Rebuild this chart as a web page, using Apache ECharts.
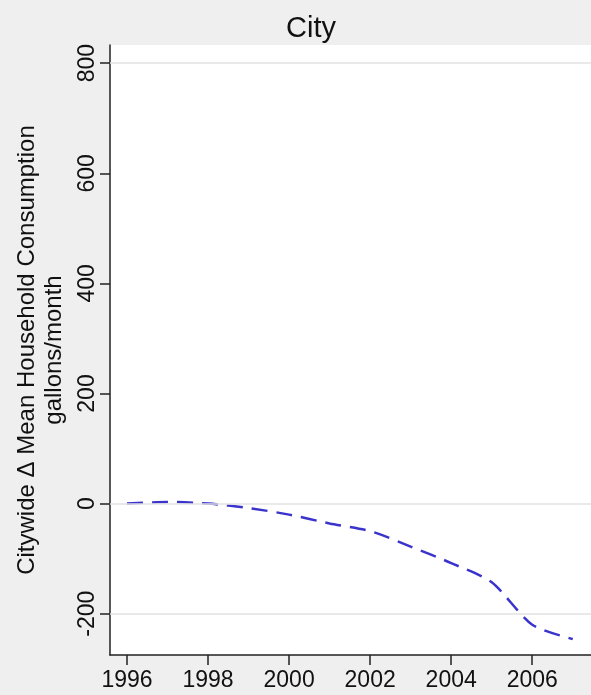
<!DOCTYPE html>
<html>
<head>
<meta charset="utf-8">
<script src="https://cdn.jsdelivr.net/npm/echarts@6/dist/echarts.min.js"></script>
<style>html,body{margin:0;padding:0;background:#efefef}#c{width:591px;height:695px}</style>
</head>
<body>
<div id="c"></div>
<script>
const years = [1996, 1997, 1998, 1999, 2000, 2001, 2002, 2003, 2004, 2005, 2006, 2007];
const cityValues = [0, 3, 0, -8, -20, -36, -50, -78, -108, -143, -220, -246];
const xTicks = [1996, 1998, 2000, 2002, 2004, 2006];
const yTicks = [-200, 0, 200, 400, 600, 800];
const gridValues = [800, 0, -200];

const chart = echarts.init(document.getElementById('c'));
const font = '"Liberation Sans", Arial, Helvetica, sans-serif';
chart.setOption({
  backgroundColor: '#efefef',
  animation: false,
  title: {
    text: 'City', left: 281, top: 9,
    textStyle: {fontFamily: font, fontSize: 29, fontWeight: 'normal', color: '#111'}
  },
  grid: {left: 110, top: 45, right: 0, bottom: 40, show: true, backgroundColor: '#ffffff', borderWidth: 0, containLabel: false, outerBoundsMode: 'none'},
  xAxis: {
    type: 'value', min: 1995.58, max: 2007.45,
    axisLine: {show: true, onZero: false, lineStyle: {color: '#222', width: 1.5}},
    axisTick: {show: true, customValues: xTicks, length: 10, lineStyle: {color: '#222', width: 1.5}},
    axisLabel: {customValues: xTicks, formatter: v => String(v), fontFamily: font, fontSize: 23, color: '#111', margin: 14},
    splitLine: {show: false}
  },
  yAxis: {
    type: 'value', min: -275, max: 833,
    name: 'Citywide \u0394 Mean Household Consumption\ngallons/month',
    nameLocation: 'middle', nameRotate: 90, nameGap: 34,
    nameTextStyle: {fontFamily: font, fontSize: 24, color: '#111', lineHeight: 27},
    axisLine: {show: true, onZero: false, lineStyle: {color: '#222', width: 1.5}},
    axisTick: {show: true, customValues: yTicks, length: 10, lineStyle: {color: '#222', width: 1.5}},
    axisLabel: {customValues: yTicks, formatter: v => String(v), rotate: 90, fontFamily: font, fontSize: 23, color: '#111', margin: 11},
    splitLine: {show: false}
  },
  series: [{
    type: 'line',
    data: years.map((y, i) => [y, cityValues[i]]),
    showSymbol: false,
    smooth: 0.25,
    lineStyle: {color: '#3a33cc', width: 2.5, type: [16, 9]},
    markLine: {
      silent: true, symbol: 'none', label: {show: false},
      lineStyle: {color: '#e2e2e2', width: 1.5, type: 'solid'},
      data: gridValues.map(v => ({yAxis: v}))
    },
    z: 3
  }]
});
</script>
</body>
</html>
